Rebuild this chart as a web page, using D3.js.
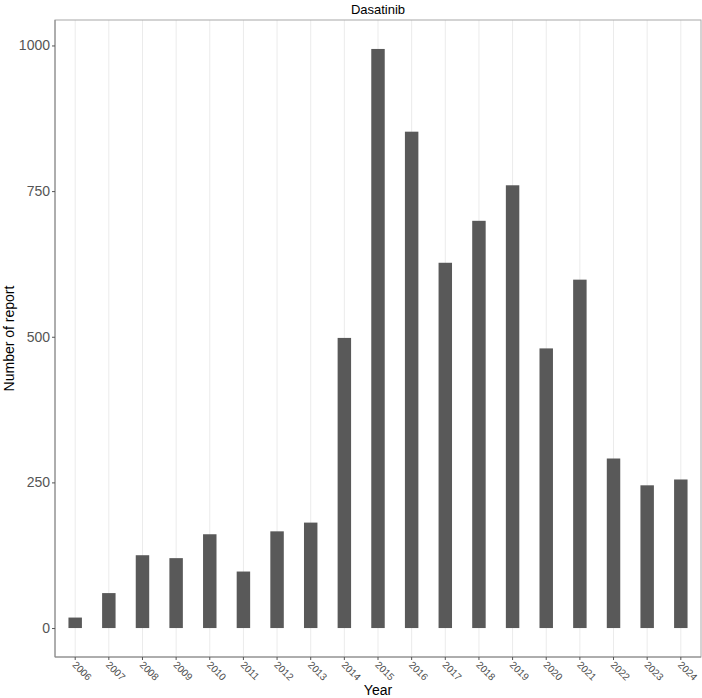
<!DOCTYPE html>
<html>
<head>
<meta charset="utf-8">
<script src="https://cdn.jsdelivr.net/npm/d3@7"></script>
<style>
  body { margin: 0; background: #fff; }
  text { font-family: "Liberation Sans", Arial, sans-serif; }
</style>
</head>
<body>
<div id="chart"></div>
<script>
var years = ["2006", "2007", "2008", "2009", "2010", "2011", "2012", "2013", "2014", "2015",
             "2016", "2017", "2018", "2019", "2020", "2021", "2022", "2023", "2024"]
var reports = [18, 60, 125, 120, 161, 97, 166, 181, 498, 994,
               852, 627, 699, 760, 480, 598, 291, 245, 255]
var yTicks = [0, 250, 500, 750, 1000]

var width = 702
var height = 698
var margin = {top: 20, right: 1, bottom: 41, left: 55}

var svg = d3.select("#chart").append("svg")
    .attr("width", width)
    .attr("height", height)

var pw = width - margin.left - margin.right
var ph = height - margin.top - margin.bottom

// ggplot style: discrete expansion 0.6, continuous 5%
var x = d3.scaleLinear()
    .domain([-0.6, years.length - 1 + 0.6])
    .range([margin.left, margin.left + pw])

var ymax = d3.max(reports)
var y = d3.scaleLinear()
    .domain([-0.05 * ymax, ymax * 1.05])
    .range([margin.top + ph, margin.top])

var g = svg.append("g")

// vertical grid lines
g.selectAll(".grid")
    .data(years)
    .enter()
    .append("line")
    .attr("x1", function(d, i) { return x(i) })
    .attr("x2", function(d, i) { return x(i) })
    .attr("y1", margin.top)
    .attr("y2", margin.top + ph)
    .style("stroke", "#ebebeb")
    .style("stroke-width", 1)

// bars
var bw = (x(1) - x(0)) * 0.4
g.selectAll(".bar")
    .data(reports)
    .enter()
    .append("rect")
    .attr("x", function(d, i) { return x(i) - bw / 2 })
    .attr("width", bw)
    .attr("y", function(d) { return y(d) })
    .attr("height", function(d) { return y(0) - y(d) })
    .style("fill", "#595959")

// panel border
g.append("rect")
    .attr("x", margin.left)
    .attr("y", margin.top)
    .attr("width", pw)
    .attr("height", ph)
    .style("fill", "none")
    .style("stroke", "#a8a8a8")
    .style("stroke-width", 1)

// y axis
var yAxis = d3.axisLeft(y).tickValues(yTicks).tickFormat(d3.format("d")).tickSize(3).tickPadding(2)
var ya = svg.append("g")
    .attr("transform", "translate(" + margin.left + ",0)")
    .call(yAxis)
ya.select(".domain").attr("d", "M0," + margin.top + "V" + (margin.top + ph)).style("stroke", "#888")
ya.selectAll(".tick line").style("stroke", "#555")
ya.selectAll(".tick text")
    .style("font-size", "14px")
    .style("fill", "#555")

// x axis
var xa = svg.append("g")
    .attr("transform", "translate(0," + (margin.top + ph) + ")")
xa.append("line")
    .attr("x1", margin.left)
    .attr("x2", margin.left + pw)
    .style("stroke", "#888")
xa.selectAll(".xtick")
    .data(years)
    .enter()
    .append("line")
    .attr("x1", function(d, i) { return x(i) })
    .attr("x2", function(d, i) { return x(i) })
    .attr("y1", 0)
    .attr("y2", 3)
    .style("stroke", "#555")
xa.selectAll(".xlabel")
    .data(years)
    .enter()
    .append("text")
    .attr("transform", function(d, i) { return "translate(" + (x(i) - 1) + ",6) rotate(45)" })
    .attr("dy", "0.35em")
    .style("font-size", "10px")
    .style("fill", "#4d4d4d")
    .text(function(d) { return d })

// title and axis titles
svg.append("text")
    .attr("x", margin.left + pw / 2)
    .attr("y", 14)
    .attr("text-anchor", "middle")
    .style("font-size", "13px")
    .style("fill", "#000")
    .text("Dasatinib")

svg.append("text")
    .attr("x", margin.left + pw / 2)
    .attr("y", 695)
    .attr("text-anchor", "middle")
    .style("font-size", "14px")
    .style("fill", "#000")
    .text("Year")

svg.append("text")
    .attr("transform", "translate(14," + (margin.top + ph / 2) + ") rotate(-90)")
    .attr("text-anchor", "middle")
    .style("font-size", "14px")
    .style("fill", "#000")
    .text("Number of report")
</script>
</body>
</html>
